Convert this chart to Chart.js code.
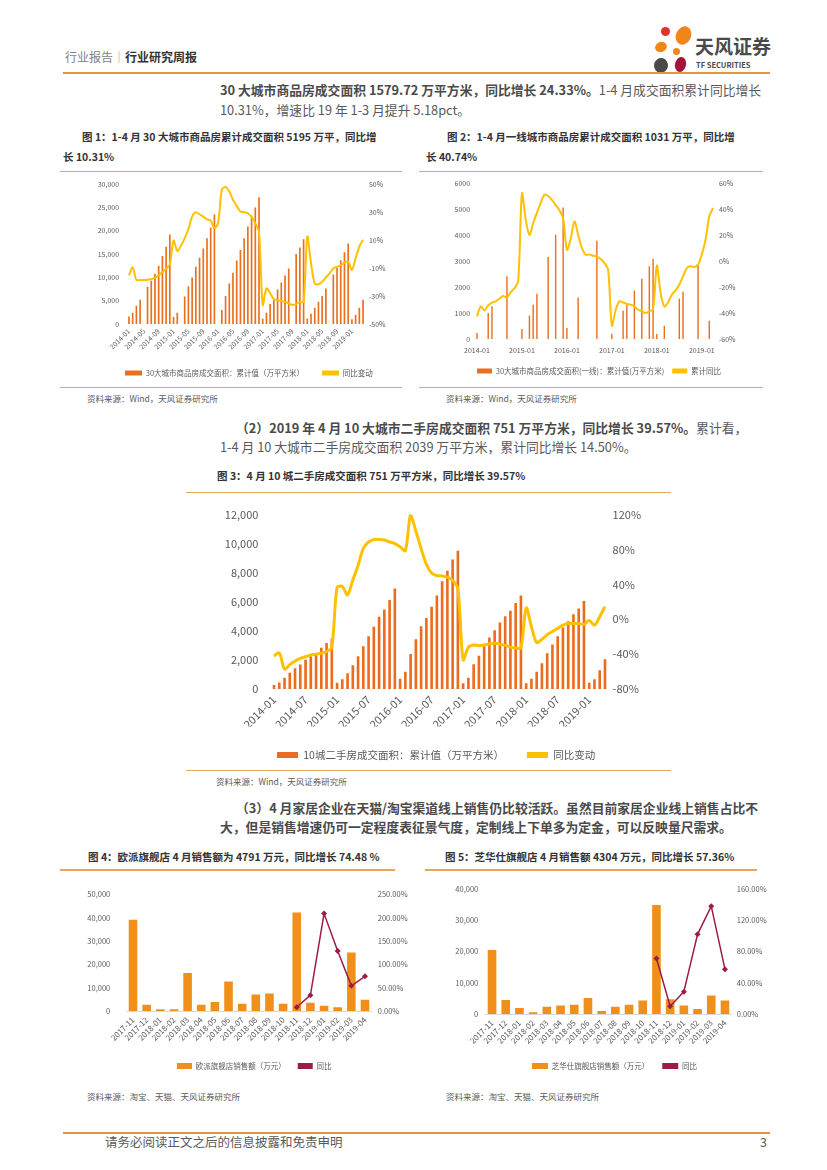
<!DOCTYPE html>
<html><head><meta charset="utf-8">
<script src="https://cdn.jsdelivr.net/npm/chart.js@4.4.1/dist/chart.umd.min.js"></script>
<style>
body{margin:0;background:#fff;}
#page{position:relative;width:827px;height:1170px;overflow:hidden;font-family:"Noto Sans CJK SC","Noto Sans",sans-serif;color:#404040;background:#fff;}
.t{position:absolute;white-space:nowrap;line-height:1;}
.rule{position:absolute;background:#EBA45C;height:1.5px;}
canvas{position:absolute;}
.p{color:#595959;}
.b{font-weight:bold;color:#4a4a4a;}
.cap{font-weight:bold;color:#333;}
.src{color:#595959;}
.blob{position:absolute;border-radius:50%;}
</style></head>
<body><div id="page"></div>
<canvas id="c1"></canvas><canvas id="c2"></canvas><canvas id="c3"></canvas><canvas id="c4"></canvas><canvas id="c5"></canvas>
<script>
// ---------------- DATA ----------------
const months = ['2014-01','2014-02','2014-03','2014-04','2014-05','2014-06','2014-07','2014-08','2014-09','2014-10','2014-11','2014-12',
'2015-01','2015-02','2015-03','2015-04','2015-05','2015-06','2015-07','2015-08','2015-09','2015-10','2015-11','2015-12',
'2016-01','2016-02','2016-03','2016-04','2016-05','2016-06','2016-07','2016-08','2016-09','2016-10','2016-11','2016-12',
'2017-01','2017-02','2017-03','2017-04','2017-05','2017-06','2017-07','2017-08','2017-09','2017-10','2017-11','2017-12',
'2018-01','2018-02','2018-03','2018-04','2018-05','2018-06','2018-07','2018-08','2018-09','2018-10','2018-11','2018-12',
'2019-01','2019-02','2019-03','2019-04'];

// Fig 1: 30 cities, cumulative area (10k m2) and YoY (%)
const city30Cum = [1600,2400,3900,5200,null,8000,9300,10800,12500,14600,16600,19200,
1500,2400,null,5900,8100,10000,12300,14200,16200,18400,20700,23500,
null,3000,6000,8700,11000,13600,15900,18400,20900,22900,25000,27200,
1100,2400,4300,5400,7400,8900,10400,11900,null,15000,16400,18200,
1200,2200,3500,4800,6000,7600,null,10600,12000,13700,15400,17300,
1000,2000,3500,5195];
const city30Yoy = [-15.2,-9.4,-18.5,-18.5,-18.5,-18.3,-18,-16.8,-15.2,-12.8,-10.4,-7.5,
9.7,2.3,5.9,11.4,17.8,26.8,30,28.5,26.8,24.9,24,18.5,
22.6,46,48,44.8,38.8,34.5,30.4,30,29.2,26.8,22,16,
-36.4,-24.5,-28,-32.3,-32.8,-33.5,-34,-35.2,-36.4,-35.7,-34.2,-34.2,
12.5,-6.6,-21,-21.6,-19.8,-16.7,-13.8,-10.3,-9.1,-7.9,-6.2,-5.4,
-11.3,-3,5.4,10.31];

// Fig 2: tier-1 cities, cumulative area and cumulative YoY
const tier1Cum = [230,null,null,1000,1260,null,null,null,2410,null,null,null,
385,null,900,1320,1740,null,null,3150,null,4010,null,5060,
420,null,null,1600,null,null,null,null,3780,null,null,null,
205,null,null,1090,1320,null,1860,null,2320,null,2800,3090,
190,null,510,null,null,null,1550,1820,null,null,null,2880,
null,null,700,null];
const tier1Yoy = [-42.6,-35,-38,-34,-32,-31,-29,-27,-28,-24,-21,-15.6,
52,32,20,29,37,44.6,51,50,47,43,39,33,
8.7,17,30.5,20,10,4.9,4.9,4,3.6,1.5,-1.5,-6.7,
-49.7,-37.9,-31,-32,-33,-33.6,-35,-37.4,-38.7,-40,-38.7,-37,
-3.6,-24.6,-35,-31.8,-25.9,-22.6,-18.2,-11.8,-5.4,-4.1,-4.6,-2.8,
4.9,16.4,34.4,40.74];

// Fig 3: 10 cities second-hand, cumulative area and YoY
const sh10Cum = [280,450,780,1120,1430,1690,2010,2250,2450,2830,3160,3450,
430,670,1080,1640,2250,2940,3630,4280,4970,5470,6120,6920,
710,1190,2400,3420,4320,4890,5660,6440,7420,8130,8910,9510,
390,780,1710,2290,2940,3550,4040,4580,5010,5380,5920,6440,
390,710,1190,1770,2460,3070,3630,4240,4670,5150,5540,6050,
430,670,1288,2039];
const sh10Yoy = [-42,-38.6,-57,-52,-48,-45,-43,-41,-40,-39,-37,-32,
36.4,37.5,28,45,61.6,81.4,88.6,91.5,91.5,90.8,88.6,86.8,
83,78.6,120,101,81,63,53,50,49.7,48.3,44.7,34.6,
-46.5,-32,-29.5,-30.3,-29.5,-28.5,-27.4,-28.5,-30,-32,-33,-33,
13,-8.6,-26.7,-23,-17.7,-14,-10.5,-6.8,-5,-5,-5,-5.8,
-1.4,-6.8,2.9,14.5];

// Fig 4/5: flagship stores
const months18 = ['2017-11','2017-12','2018-01','2018-02','2018-03','2018-04','2018-05','2018-06','2018-07','2018-08','2018-09','2018-10','2018-11','2018-12','2019-01','2019-02','2019-03','2019-04'];
const oppeinSales = [39200,2700,700,700,16300,2700,3900,12700,3100,7100,7500,3100,42300,3500,2300,1600,25100,4791];
const oppeinYoy = [null,null,null,null,null,null,null,null,null,null,null,null,8,34,209,129,54,74.48];
const cheersSales = [20500,4500,1900,600,2300,2700,3000,5100,1000,2300,3000,4300,34900,4700,2700,1600,5900,4304];
const cheersYoy = [null,null,null,null,null,null,null,null,null,null,null,null,71,10,28.6,102,138,57.36];

// ---------------- PAGE TEXT ----------------
const page = document.getElementById('page');
function T(x, y, size, html, cls) {
  const d = document.createElement('div');
  d.className = 't ' + (cls || '');
  d.style.left = x + 'px'; d.style.top = (y - 0.55 * size) + 'px'; d.style.fontSize = size + 'px';
  d.innerHTML = html; page.appendChild(d); return d;
}
function R(x1, x2, y, h, color) {
  const d = document.createElement('div'); d.className = 'rule';
  d.style.left = x1 + 'px'; d.style.width = (x2 - x1) + 'px'; d.style.top = y + 'px';
  if (h) d.style.height = h + 'px'; if (color) d.style.background = color;
  page.appendChild(d);
}
function B(cx, cy, w, h, rot, color) {
  const d = document.createElement('div'); d.className = 'blob';
  Object.assign(d.style, {left: (cx - w / 2) + 'px', top: (cy - h / 2) + 'px', width: w + 'px', height: h + 'px', background: color, transform: 'rotate(' + rot + 'deg)'});
  page.appendChild(d);
}
// header
T(65, 58, 12, '<span style="color:#7f7f7f">行业报告</span><span style="color:#9a9a9a">｜</span><b style="color:#333">行业研究周报</b>');
B(665, 31, 9, 9, 0, '#E3312B');
B(683, 35, 15, 19, 25, '#F08519');
B(661, 47, 12, 10, -20, '#F08519');
B(676, 51, 7, 7, 0, '#F08519');
B(661, 65, 14, 15, 10, '#4A4A4A');
B(680, 64, 11, 15, 15, '#A3133B');
T(695, 46, 19, '天风证券', 'b');
T(696, 65, 7.5, 'TF SECURITIES', 'b');
R(63, 770, 71.5, 2.2, '#E8943A');

// para 1
T(220, 91, 12.8, '<span class="b">30 大城市商品房成交面积 1579.72 万平方米，同比增长 24.33%。</span>1-4 月成交面积累计同比增长', 'p');
T(220, 111, 12.8, '10.31%，增速比 19 年 1-3 月提升 5.18pct。', 'p');
// captions 1/2
T(82, 138, 10.5, '图 1：1-4 月 30 大城市商品房累计成交面积 5195 万平，同比增', 'cap');
T(63, 158, 10.5, '长 10.31%', 'cap');
T(447, 138, 10.5, '图 2：1-4 月一线城市商品房累计成交面积 1031 万平，同比增', 'cap');
T(426, 158, 10.5, '长 40.74%', 'cap');
R(60, 402, 170.5); R(419, 763, 170.5);
R(60, 402, 386.5); R(419, 763, 386.5);
T(87, 399, 8.5, '资料来源：Wind，天风证券研究所', 'src');
T(446, 399, 8.5, '资料来源：Wind，天风证券研究所', 'src');
// para 2
T(236, 429, 12.8, '<span class="b">（2）2019 年 4 月 10 大城市二手房成交面积 751 万平方米，同比增长 39.57%。</span>累计看，', 'p');
T(220, 448, 12.8, '1-4 月 10 大城市二手房成交面积 2039 万平方米，累计同比增长 14.50%。', 'p');
T(217, 477, 10.5, '图 3：4 月 10 城二手房成交面积 751 万平方米，同比增长 39.57%', 'cap');
R(186, 671, 491.5); R(186, 671, 769.5);
T(216, 782, 8.5, '资料来源：Wind，天风证券研究所', 'src');
// para 3
T(236, 809, 12.8, '<span class="b">（3）4 月家居企业在天猫/淘宝渠道线上销售仍比较活跃。虽然目前家居企业线上销售占比不</span>', 'p');
T(220, 828, 12.8, '<span class="b">大，但是销售增速仍可一定程度表征景气度，定制线上下单多为定金，可以反映量尺需求。</span>', 'p');
T(88, 858, 10.5, '图 4：欧派旗舰店 4 月销售额为 4791 万元，同比增长 74.48 %', 'cap');
T(445, 858, 10.5, '图 5：芝华仕旗舰店 4 月销售额 4304 万元，同比增长 57.36%', 'cap');
R(60, 395, 869); R(425, 757, 869);
T(87, 1097, 8.5, '资料来源：淘宝、天猫、天风证券研究所', 'src');
T(446, 1097, 8.5, '资料来源：淘宝、天猫、天风证券研究所', 'src');
// footer
R(63, 770, 1131.5, 2.2, '#E8943A');
T(105, 1143, 12.5, '请务必阅读正文之后的信息披露和免责申明', 'p');
T(760, 1143, 12.5, '3', 'p');

// ---------------- CHARTS ----------------
const FONT = '"Noto Sans CJK SC", "Noto Sans", sans-serif';
const TICK = '#595959';
const legendPlace = {
  id: 'legendPlace',
  afterLayout(chart, args, o) {
    const lg = chart.legend; if (!lg || o.x == null) return;
    const dx = o.x - (lg.left + o.p); lg.left += dx; lg.right += dx;
    const dy = o.y - (lg.top + o.p + o.ih / 2); lg.top += dy; lg.bottom += dy;
  }
};
Chart.register(legendPlace);

function draw(id, g, labels, barLabel, bars, lineLabel, line, s) {
  const cv = document.getElementById(id);
  cv.width = g.w; cv.height = g.h;
  Object.assign(cv.style, {left: g.x + 'px', top: g.y + 'px', width: g.w + 'px', height: g.h + 'px'});
  const ih = Math.max(g.lf, g.bh);
  const legH = ih + g.lp + 10;
  const xH = g.h - legH - (g.b - g.y);
  return new Chart(cv, {
    type: 'bar',
    data: {labels: labels, datasets: [
      {type: 'bar', label: barLabel, data: bars, backgroundColor: s.barColor, borderWidth: 0,
       barPercentage: s.barPct, categoryPercentage: 1, yAxisID: 'y', order: 1},
      {type: 'line', label: lineLabel, data: line, borderColor: s.lineColor, backgroundColor: s.lineColor,
       borderWidth: s.lw, tension: s.tension, pointRadius: s.pr, pointStyle: 'rectRot',
       pointBackgroundColor: s.lineColor, pointBorderColor: s.lineColor, pointBorderWidth: 0,
       yAxisID: 'y1', order: 0, spanGaps: false}
    ]},
    options: {
      responsive: false, animation: false, devicePixelRatio: 1,
      layout: {padding: {top: g.t - g.y, left: 0, right: 0, bottom: 0}},
      plugins: {
        tooltip: {enabled: false},
        legend: {position: 'bottom', align: 'start',
          labels: {font: {family: FONT, size: g.lf}, color: '#595959', boxWidth: g.bw, boxHeight: g.bh, padding: g.lp,
            sort: (a, b) => a.datasetIndex - b.datasetIndex,
            generateLabels: (ch) => Chart.defaults.plugins.legend.labels.generateLabels(ch).map(it => Object.assign(it, {lineWidth: 0}))}},
        legendPlace: {x: g.lx - g.x, y: g.ly - g.y, p: g.lp, ih: ih}
      },
      scales: {
        x: {grid: {display: false, drawTicks: false}, border: {display: !!s.xBorder, color: '#d9d9d9'},
            ticks: {autoSkip: false, maxRotation: s.rot, minRotation: s.rot, padding: s.xpad, color: TICK,
                    font: {family: FONT, size: s.xf},
                    callback: function (v, i) { return i % s.every === 0 ? this.getLabelForValue(v) : ''; }},
            afterFit: (sc) => { sc.height = xH; }},
        y: {position: 'left', min: s.ymin, max: s.ymax, grid: {display: false, drawTicks: false}, border: {display: false},
            ticks: {stepSize: s.ystep, padding: s.ypad, color: TICK, font: {family: FONT, size: s.yf}, callback: s.yfmt},
            afterFit: (sc) => { sc.width = g.l - g.x; }},
        y1: {position: 'right', min: s.rmin, max: s.rmax, grid: {display: false, drawTicks: false}, border: {display: false},
            ticks: {stepSize: s.rstep, padding: s.rpad, color: TICK, font: {family: FONT, size: s.yf}, callback: s.rfmt},
            afterFit: (sc) => { sc.width = g.x + g.w - g.r; }}
      }
    }
  });
}
const comma = v => v.toLocaleString('en-US');
const plain = v => String(v);
const pct = v => v + '%';
const pct2 = v => v.toFixed(2) + '%';

draw('c1', {x: 60, y: 172, w: 342, h: 213, l: 127.1, r: 364.9, t: 184, b: 324, lx: 125, ly: 373, lf: 7.5, lp: 18, bw: 17, bh: 5},
  months, '30大城市商品房成交面积：累计值（万平方米）', city30Cum, '同比变动', city30Yoy,
  {barColor: '#E8701F', barPct: 0.45, lineColor: '#FFC000', lw: 2, tension: 0.3, pr: 0,
   rot: 45, xpad: 3, xf: 7, every: 4, yf: 7, ymin: 0, ymax: 30000, ystep: 5000, ypad: 8, yfmt: comma,
   rmin: -50, rmax: 50, rstep: 20, rpad: 4, rfmt: pct});

draw('c2', {x: 420, y: 172, w: 343, h: 213, l: 475.1, r: 714.9, t: 183, b: 339, lx: 477, ly: 371, lf: 7.5, lp: 8, bw: 15, bh: 5},
  months, '30大城市商品房成交面积(一线)：累计值(万平方米)', tier1Cum, '累计同比', tier1Yoy,
  {barColor: '#E8701F', barPct: 0.38, lineColor: '#FFC000', lw: 2, tension: 0.3, pr: 0,
   rot: 0, xpad: 7, xf: 7, every: 12, yf: 7, ymin: 0, ymax: 6000, ystep: 1000, ypad: 5, yfmt: plain,
   rmin: -60, rmax: 60, rstep: 20, rpad: 4, rfmt: pct});

draw('c3', {x: 186, y: 495, w: 485, h: 275, l: 271.4, r: 607.6, t: 504, b: 689, lx: 277, ly: 755, lf: 10.5, lp: 23, bw: 21, bh: 6},
  months, '10城二手房成交面积：累计值（万平方米）', sh10Cum, '同比变动', sh10Yoy,
  {barColor: '#EC6C1E', barPct: 0.5, lineColor: '#FFC000', lw: 3, tension: 0.3, pr: 0,
   rot: 45, xpad: 4, xf: 11, every: 6, yf: 11, ymin: 0, ymax: 12000, ystep: 2000, ypad: 13, yfmt: comma,
   rmin: -80, rmax: 120, rstep: 40, rpad: 5, rfmt: pct});

draw('c4', {x: 60, y: 874, w: 360, h: 208, l: 126.2, r: 371.8, t: 886, b: 1011, lx: 177, ly: 1066, lf: 7.5, lp: 12, bw: 15, bh: 6},
  months18, '欧派旗舰店销售额（万元）', oppeinSales, '同比', oppeinYoy,
  {barColor: '#F0901A', barPct: 0.63, lineColor: '#9E1B46', lw: 1.5, tension: 0, pr: 3,
   rot: 45, xpad: 4, xf: 8, every: 1, yf: 7.5, ymin: 0, ymax: 50000, ystep: 10000, ypad: 16, yfmt: comma,
   rmin: 0, rmax: 250, rstep: 50, rpad: 6, rfmt: pct2, xBorder: true});

draw('c5', {x: 420, y: 874, w: 360, h: 208, l: 485.2, r: 731.8, t: 889, b: 1014, lx: 532, ly: 1066, lf: 7.5, lp: 13, bw: 16, bh: 6},
  months18, '芝华仕旗舰店销售额（万元）', cheersSales, '同比', cheersYoy,
  {barColor: '#F0901A', barPct: 0.63, lineColor: '#9E1B46', lw: 1.5, tension: 0, pr: 3,
   rot: 45, xpad: 4, xf: 8, every: 1, yf: 7.5, ymin: 0, ymax: 40000, ystep: 10000, ypad: 7, yfmt: comma,
   rmin: 0, rmax: 160, rstep: 40, rpad: 5, rfmt: pct2, xBorder: true});
</script>
</body></html>
